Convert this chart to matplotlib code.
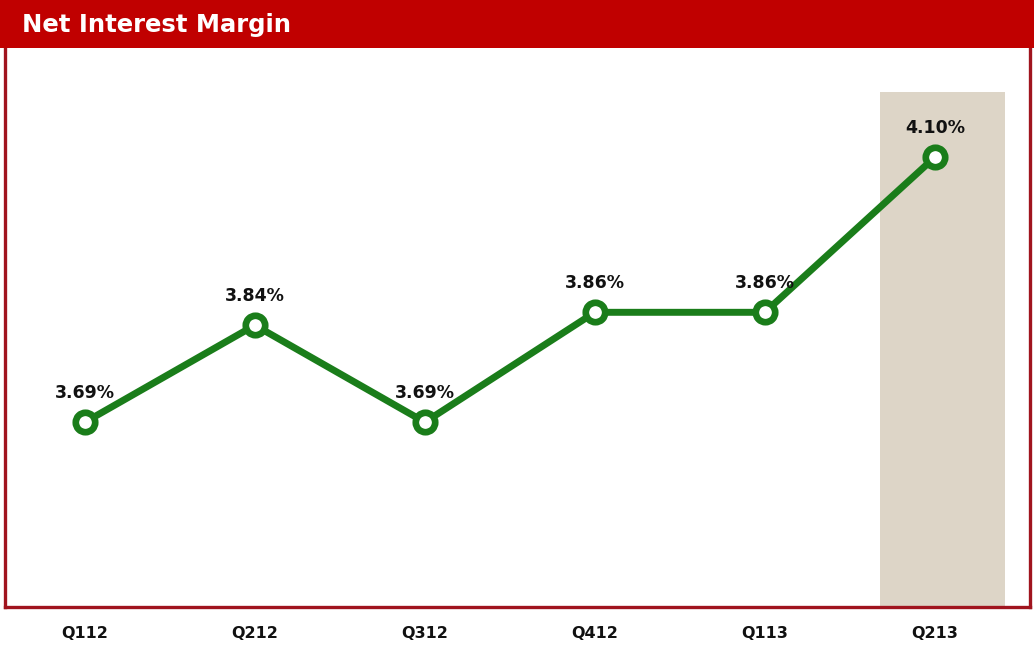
import matplotlib
matplotlib.use("Agg")
import matplotlib.pyplot as plt
from matplotlib.patches import Rectangle

quarters = ["Q112", "Q212", "Q312", "Q412", "Q113", "Q213"]
nim = [3.69, 3.84, 3.69, 3.86, 3.86, 4.10]
labels = ["3.69%", "3.84%", "3.69%", "3.86%", "3.86%", "4.10%"]
title = "Net Interest Margin"

W, H = 1034, 649
fig = plt.figure(figsize=(W / 100, H / 100), dpi=100)
fig.patch.set_facecolor("white")

# header bar
fig.patches.append(Rectangle((0, 1 - 48 / H), 1, 48 / H, transform=fig.transFigure,
                             facecolor="#C00000", edgecolor="none", zorder=0))
fig.text(22 / W, 1 - 25 / H, title, color="white", fontsize=17.5, fontweight="bold",
         va="center", ha="left", family="DejaVu Sans")

ax = fig.add_axes([5 / W, 1 - 607 / H, 1025 / W, 559 / H])
x = list(range(len(quarters)))
ax.set_xlim(-0.47, 5.56)
ax.set_ylim(3.404, 4.269)

# highlight band behind last quarter
ax.axvspan(4.676, 5.41, ymin=0, ymax=(4.201 - 3.404) / (4.269 - 3.404),
           facecolor="#DDD5C7", edgecolor="none", zorder=0)

ax.plot(x, nim, color="#1A7D1A", linewidth=5, marker="o", markersize=14,
        markerfacecolor="white", markeredgecolor="#1A7D1A", markeredgewidth=4.8, zorder=3)

for xi, yi, lab in zip(x, nim, labels):
    ax.annotate(lab, (xi, yi), xytext=(0, 21), textcoords="offset points",
                ha="center", va="center", fontsize=12.5, fontweight="bold", color="#111111")

ax.set_xticks(x)
ax.set_xticklabels(quarters, fontsize=11.5, fontweight="bold", color="#111111")
ax.tick_params(axis="x", length=0, pad=14)
ax.set_yticks([])
for s in ax.spines.values():
    s.set_color("#A0141E")
    s.set_linewidth(2.4)
ax.spines["top"].set_visible(False)

fig.savefig("out.png", dpi=100)
